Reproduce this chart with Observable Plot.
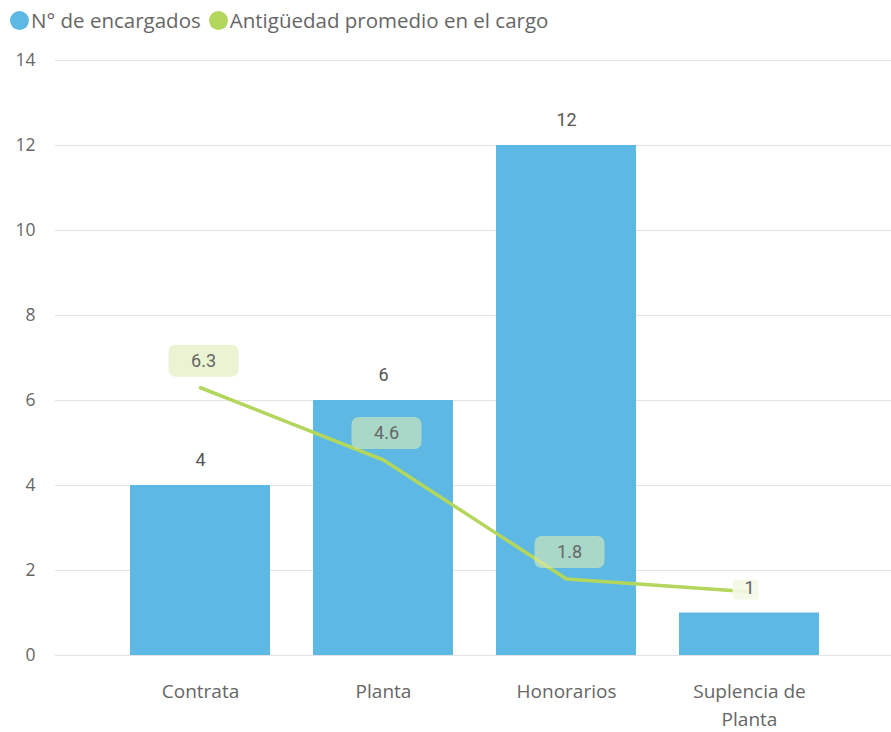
<!DOCTYPE html>
<html>
<head>
<meta charset="utf-8">
<script src="https://cdn.jsdelivr.net/npm/d3@7"></script>
<script src="https://cdn.jsdelivr.net/npm/@observablehq/plot@0.6"></script>
<style>
  body { margin: 0; background: #fff; font-family: "Open Sans", "Noto Sans", sans-serif; }
  #legend { height: 40px; display: flex; align-items: center; padding-left: 10px; font-size: 20.5px; color: #666; }
  .item { display: flex; align-items: center; margin-right: 8px; }
  .sw { width: 19px; height: 19px; border-radius: 50%; margin-right: 2px; }
  svg { display: block; }
</style>
</head>
<body>
<div id="legend"></div>
<div id="chart"></div>
<script>
const categories = ["Contrata", "Planta", "Honorarios", "Suplencia de Planta"];
const tickLabels = ["Contrata", "Planta", "Honorarios", "Suplencia de\nPlanta"];
const encargados = [4, 6, 12, 1];
const antiguedad = [6.3, 4.6, 1.8, 1.5];
const antiguedadLabels = ["6.3", "4.6", "1.8", "1"];
const seriesNames = ["N° de encargados", "Antigüedad promedio en el cargo"];
const yTicks = [0, 2, 4, 6, 8, 10, 12, 14];

const barColor = "#5DB9E3";
const lineColor = "#B3D65C";

const legend = document.getElementById("legend");
[[seriesNames[0], barColor], [seriesNames[1], lineColor]].forEach(([n, c]) => {
  const it = document.createElement("div");
  it.className = "item";
  it.innerHTML = `<span class="sw" style="background:${c}"></span><span>${n}</span>`;
  legend.appendChild(it);
});

const data = categories.map((c, i) => ({
  cat: c, tick: tickLabels[i], n: encargados[i], a: antiguedad[i], al: antiguedadLabels[i], last: i === categories.length - 1
}));

function roundRect(w, h, r) {
  return {
    draw(ctx) {
      const x0 = -w / 2, y0 = -h / 2, x1 = w / 2, y1 = h / 2;
      ctx.moveTo(x0 + r, y0);
      ctx.lineTo(x1 - r, y0);
      ctx.arcTo(x1, y0, x1, y0 + r, r);
      ctx.lineTo(x1, y1 - r);
      ctx.arcTo(x1, y1, x1 - r, y1, r);
      ctx.lineTo(x0 + r, y1);
      ctx.arcTo(x0, y1, x0, y1 - r, r);
      ctx.lineTo(x0, y0 + r);
      ctx.arcTo(x0, y0, x0 + r, y0, r);
      ctx.closePath();
    }
  };
}

const tickMap = new Map(data.map(d => [d.cat, d.tick]));

const chart = Plot.plot({
  width: 891,
  height: 692,
  marginLeft: 55,
  marginRight: 0,
  marginTop: 20,
  marginBottom: 77,
  style: { fontFamily: "'Open Sans', 'Noto Sans', sans-serif", color: "#666", background: "#fff" },
  x: { domain: categories, range: [108.5, 840.5], paddingInner: 0.235, paddingOuter: 0.1175, label: null },
  y: { domain: [0, 14], label: null },
  marks: [
    Plot.ruleY(yTicks, { stroke: "#e3e3e3", strokeWidth: 1 }),
    Plot.axisY({ ticks: yTicks, tickSize: 0, tickPadding: 20, fontSize: 17.5, fill: "#666", label: null }),
    Plot.axisX({ tickSize: 0, tickPadding: 23, fontSize: 19, fill: "#666", label: null, lineHeight: 1.45,
      tickFormat: d => tickMap.get(d) }),
    Plot.barY(data, { x: "cat", y: "n", fill: barColor }),
    Plot.text(data, { x: "cat", y: "n", text: d => String(d.n), dy: -25, fontSize: 18, fill: "#555", fontFamily: "Roboto, sans-serif" }),
    Plot.line(data, { x: "cat", y: "a", stroke: lineColor, strokeWidth: 3.5 }),
    Plot.dot(data.filter(d => !d.last), { x: "cat", y: "a", dx: 3, dy: -27, symbol: roundRect(70, 32, 7), r: 1, fill: "#dcedb6", fillOpacity: 0.6, stroke: "none" }),
    Plot.dot(data.filter(d => d.last), { x: "cat", y: "a", dx: -4, dy: -2, symbol: roundRect(26, 20, 4), r: 1, fill: "#f3f8e6", fillOpacity: 0.9, stroke: "none" }),
    Plot.text(data.filter(d => !d.last), { x: "cat", y: "a", text: "al", dx: 3, dy: -27, fontSize: 18, fill: "#666", fontFamily: "Roboto, sans-serif" }),
    Plot.text(data.filter(d => d.last), { x: "cat", y: "a", text: "al", dx: 0, dy: -4, fontSize: 18, fill: "#666", fontFamily: "Roboto, sans-serif" })
  ]
});
document.getElementById("chart").appendChild(chart);
</script>
</body>
</html>
